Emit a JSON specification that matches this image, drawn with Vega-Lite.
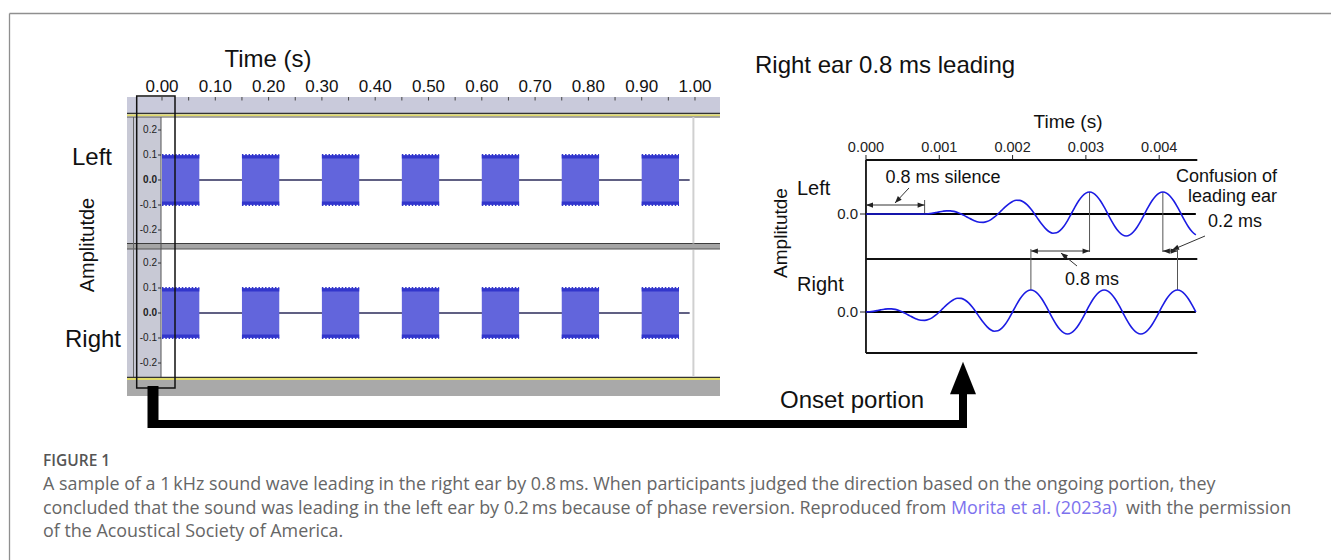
{
"$schema":"https://vega.github.io/schema/vega-lite/v6.json",
"width":1331,"height":560,"autosize":{"type":"none"},"padding":0,"background":"white",
"config":{"view":{"stroke":null},"text":{"font":"Liberation Sans"}},
"datasets":{
"lticks":[{"t":0,"label":"0.00"},{"t":0.05,"label":""},{"t":0.1,"label":"0.10"},{"t":0.15,"label":""},{"t":0.2,"label":"0.20"},{"t":0.25,"label":""},{"t":0.3,"label":"0.30"},{"t":0.35,"label":""},{"t":0.4,"label":"0.40"},{"t":0.45,"label":""},{"t":0.5,"label":"0.50"},{"t":0.55,"label":""},{"t":0.6,"label":"0.60"},{"t":0.65,"label":""},{"t":0.7,"label":"0.70"},{"t":0.75,"label":""},{"t":0.8,"label":"0.80"},{"t":0.85,"label":""},{"t":0.9,"label":"0.90"},{"t":0.95,"label":""},{"t":1,"label":"1.00"}],
"rticks":[{"t":0,"label":"0.000"},{"t":0.001,"label":"0.001"},{"t":0.002,"label":"0.002"},{"t":0.003,"label":"0.003"},{"t":0.004,"label":"0.004"}],
"ampticks":[{"v":0.2,"label":"0.2"},{"v":0.1,"label":"0.1"},{"v":0,"label":"0.0"},{"v":-0.1,"label":"-0.1"},{"v":-0.2,"label":"-0.2"}],
"bursts":[
{"track":"Left","t0":0,"t1":0.07,"lo":-0.1,"hi":0.1},{"track":"Left","t0":0.15,"t1":0.22,"lo":-0.1,"hi":0.1},{"track":"Left","t0":0.3,"t1":0.37,"lo":-0.1,"hi":0.1},{"track":"Left","t0":0.45,"t1":0.52,"lo":-0.1,"hi":0.1},{"track":"Left","t0":0.6,"t1":0.67,"lo":-0.1,"hi":0.1},{"track":"Left","t0":0.75,"t1":0.82,"lo":-0.1,"hi":0.1},{"track":"Left","t0":0.9,"t1":0.97,"lo":-0.1,"hi":0.1},
{"track":"Right","t0":0,"t1":0.07,"lo":-0.1,"hi":0.1},{"track":"Right","t0":0.15,"t1":0.22,"lo":-0.1,"hi":0.1},{"track":"Right","t0":0.3,"t1":0.37,"lo":-0.1,"hi":0.1},{"track":"Right","t0":0.45,"t1":0.52,"lo":-0.1,"hi":0.1},{"track":"Right","t0":0.6,"t1":0.67,"lo":-0.1,"hi":0.1},{"track":"Right","t0":0.75,"t1":0.82,"lo":-0.1,"hi":0.1},{"track":"Right","t0":0.9,"t1":0.97,"lo":-0.1,"hi":0.1}],
"wave":[
{"ch":"Left","t":0,"amp":0},{"ch":"Left","t":0.0008,"amp":0},{"ch":"Left","t":0.00085,"amp":0.008},{"ch":"Left","t":0.0009,"amp":0.029},{"ch":"Left","t":0.00095,"amp":0.061},{"ch":"Left","t":0.001,"amp":0.095},{"ch":"Left","t":0.00105,"amp":0.125},{"ch":"Left","t":0.0011,"amp":0.143},{"ch":"Left","t":0.00115,"amp":0.142},{"ch":"Left","t":0.0012,"amp":0.118},{"ch":"Left","t":0.00125,"amp":0.07},{"ch":"Left","t":0.0013,"amp":0},{"ch":"Left","t":0.00135,"amp":-0.085},{"ch":"Left","t":0.0014,"amp":-0.176},{"ch":"Left","t":0.00145,"amp":-0.263},{"ch":"Left","t":0.0015,"amp":-0.333},{"ch":"Left","t":0.00155,"amp":-0.375},{"ch":"Left","t":0.0016,"amp":-0.38},{"ch":"Left","t":0.00165,"amp":-0.344},{"ch":"Left","t":0.0017,"amp":-0.265},{"ch":"Left","t":0.00175,"amp":-0.147},{"ch":"Left","t":0.0018,"amp":0},{"ch":"Left","t":0.00185,"amp":0.162},{"ch":"Left","t":0.0019,"amp":0.323},{"ch":"Left","t":0.00195,"amp":0.465},{"ch":"Left","t":0.002,"amp":0.571},{"ch":"Left","t":0.00205,"amp":0.625},{"ch":"Left","t":0.0021,"amp":0.618},{"ch":"Left","t":0.00215,"amp":0.546},{"ch":"Left","t":0.0022,"amp":0.412},{"ch":"Left","t":0.00225,"amp":0.224},{"ch":"Left","t":0.0023,"amp":0},{"ch":"Left","t":0.00235,"amp":-0.239},{"ch":"Left","t":0.0024,"amp":-0.47},{"ch":"Left","t":0.00245,"amp":-0.667},{"ch":"Left","t":0.0025,"amp":-0.808},{"ch":"Left","t":0.00255,"amp":-0.875},{"ch":"Left","t":0.0026,"amp":-0.856},{"ch":"Left","t":0.00265,"amp":-0.748},{"ch":"Left","t":0.0027,"amp":-0.559},{"ch":"Left","t":0.00275,"amp":-0.301},{"ch":"Left","t":0.0028,"amp":0},{"ch":"Left","t":0.00285,"amp":0.309},{"ch":"Left","t":0.0029,"amp":0.588},{"ch":"Left","t":0.00295,"amp":0.809},{"ch":"Left","t":0.003,"amp":0.951},{"ch":"Left","t":0.00305,"amp":1},{"ch":"Left","t":0.0031,"amp":0.951},{"ch":"Left","t":0.00315,"amp":0.809},{"ch":"Left","t":0.0032,"amp":0.588},{"ch":"Left","t":0.00325,"amp":0.309},{"ch":"Left","t":0.0033,"amp":0},{"ch":"Left","t":0.00335,"amp":-0.309},{"ch":"Left","t":0.0034,"amp":-0.588},{"ch":"Left","t":0.00345,"amp":-0.809},{"ch":"Left","t":0.0035,"amp":-0.951},{"ch":"Left","t":0.00355,"amp":-1},{"ch":"Left","t":0.0036,"amp":-0.951},{"ch":"Left","t":0.00365,"amp":-0.809},{"ch":"Left","t":0.0037,"amp":-0.588},{"ch":"Left","t":0.00375,"amp":-0.309},{"ch":"Left","t":0.0038,"amp":0},{"ch":"Left","t":0.00385,"amp":0.309},{"ch":"Left","t":0.0039,"amp":0.588},{"ch":"Left","t":0.00395,"amp":0.809},{"ch":"Left","t":0.004,"amp":0.951},{"ch":"Left","t":0.00405,"amp":1},{"ch":"Left","t":0.0041,"amp":0.951},{"ch":"Left","t":0.00415,"amp":0.809},{"ch":"Left","t":0.0042,"amp":0.588},{"ch":"Left","t":0.00425,"amp":0.309},{"ch":"Left","t":0.0043,"amp":0},{"ch":"Left","t":0.00435,"amp":-0.309},{"ch":"Left","t":0.0044,"amp":-0.588},{"ch":"Left","t":0.00445,"amp":-0.809},{"ch":"Left","t":0.0045,"amp":-0.951},
{"ch":"Right","t":0,"amp":0},{"ch":"Right","t":0.00005,"amp":0.008},{"ch":"Right","t":0.0001,"amp":0.029},{"ch":"Right","t":0.00015,"amp":0.061},{"ch":"Right","t":0.0002,"amp":0.095},{"ch":"Right","t":0.00025,"amp":0.125},{"ch":"Right","t":0.0003,"amp":0.143},{"ch":"Right","t":0.00035,"amp":0.142},{"ch":"Right","t":0.0004,"amp":0.118},{"ch":"Right","t":0.00045,"amp":0.07},{"ch":"Right","t":0.0005,"amp":0},{"ch":"Right","t":0.00055,"amp":-0.085},{"ch":"Right","t":0.0006,"amp":-0.176},{"ch":"Right","t":0.00065,"amp":-0.263},{"ch":"Right","t":0.0007,"amp":-0.333},{"ch":"Right","t":0.00075,"amp":-0.375},{"ch":"Right","t":0.0008,"amp":-0.38},{"ch":"Right","t":0.00085,"amp":-0.344},{"ch":"Right","t":0.0009,"amp":-0.265},{"ch":"Right","t":0.00095,"amp":-0.147},{"ch":"Right","t":0.001,"amp":0},{"ch":"Right","t":0.00105,"amp":0.162},{"ch":"Right","t":0.0011,"amp":0.323},{"ch":"Right","t":0.00115,"amp":0.465},{"ch":"Right","t":0.0012,"amp":0.571},{"ch":"Right","t":0.00125,"amp":0.625},{"ch":"Right","t":0.0013,"amp":0.618},{"ch":"Right","t":0.00135,"amp":0.546},{"ch":"Right","t":0.0014,"amp":0.412},{"ch":"Right","t":0.00145,"amp":0.224},{"ch":"Right","t":0.0015,"amp":0},{"ch":"Right","t":0.00155,"amp":-0.239},{"ch":"Right","t":0.0016,"amp":-0.47},{"ch":"Right","t":0.00165,"amp":-0.667},{"ch":"Right","t":0.0017,"amp":-0.808},{"ch":"Right","t":0.00175,"amp":-0.875},{"ch":"Right","t":0.0018,"amp":-0.856},{"ch":"Right","t":0.00185,"amp":-0.748},{"ch":"Right","t":0.0019,"amp":-0.559},{"ch":"Right","t":0.00195,"amp":-0.301},{"ch":"Right","t":0.002,"amp":0},{"ch":"Right","t":0.00205,"amp":0.309},{"ch":"Right","t":0.0021,"amp":0.588},{"ch":"Right","t":0.00215,"amp":0.809},{"ch":"Right","t":0.0022,"amp":0.951},{"ch":"Right","t":0.00225,"amp":1},{"ch":"Right","t":0.0023,"amp":0.951},{"ch":"Right","t":0.00235,"amp":0.809},{"ch":"Right","t":0.0024,"amp":0.588},{"ch":"Right","t":0.00245,"amp":0.309},{"ch":"Right","t":0.0025,"amp":0},{"ch":"Right","t":0.00255,"amp":-0.309},{"ch":"Right","t":0.0026,"amp":-0.588},{"ch":"Right","t":0.00265,"amp":-0.809},{"ch":"Right","t":0.0027,"amp":-0.951},{"ch":"Right","t":0.00275,"amp":-1},{"ch":"Right","t":0.0028,"amp":-0.951},{"ch":"Right","t":0.00285,"amp":-0.809},{"ch":"Right","t":0.0029,"amp":-0.588},{"ch":"Right","t":0.00295,"amp":-0.309},{"ch":"Right","t":0.003,"amp":0},{"ch":"Right","t":0.00305,"amp":0.309},{"ch":"Right","t":0.0031,"amp":0.588},{"ch":"Right","t":0.00315,"amp":0.809},{"ch":"Right","t":0.0032,"amp":0.951},{"ch":"Right","t":0.00325,"amp":1},{"ch":"Right","t":0.0033,"amp":0.951},{"ch":"Right","t":0.00335,"amp":0.809},{"ch":"Right","t":0.0034,"amp":0.588},{"ch":"Right","t":0.00345,"amp":0.309},{"ch":"Right","t":0.0035,"amp":0},{"ch":"Right","t":0.00355,"amp":-0.309},{"ch":"Right","t":0.0036,"amp":-0.588},{"ch":"Right","t":0.00365,"amp":-0.809},{"ch":"Right","t":0.0037,"amp":-0.951},{"ch":"Right","t":0.00375,"amp":-1},{"ch":"Right","t":0.0038,"amp":-0.951},{"ch":"Right","t":0.00385,"amp":-0.809},{"ch":"Right","t":0.0039,"amp":-0.588},{"ch":"Right","t":0.00395,"amp":-0.309},{"ch":"Right","t":0.004,"amp":0},{"ch":"Right","t":0.00405,"amp":0.309},{"ch":"Right","t":0.0041,"amp":0.588},{"ch":"Right","t":0.00415,"amp":0.809},{"ch":"Right","t":0.0042,"amp":0.951},{"ch":"Right","t":0.00425,"amp":1},{"ch":"Right","t":0.0043,"amp":0.951},{"ch":"Right","t":0.00435,"amp":0.809},{"ch":"Right","t":0.0044,"amp":0.588},{"ch":"Right","t":0.00445,"amp":0.309},{"ch":"Right","t":0.0045,"amp":0}]
},
"resolve":{"scale":{"x":"independent","y":"independent"}},
"layer":[
{"data":{"values":[{}]},"layer":[
{"mark":{"type":"rule","color":"#8f8f8f","strokeWidth":1.3},"encoding":{"x":{"datum":9.5,"type":"quantitative","scale":{"domain":[0,1331],"nice":false,"zero":false},"axis":null},"x2":{"datum":1331},"y":{"datum":13.5,"type":"quantitative","scale":{"domain":[0,560],"reverse":true,"nice":false,"zero":false},"axis":null}}},
{"mark":{"type":"rule","color":"#8f8f8f","strokeWidth":1.3},"encoding":{"x":{"datum":9.5,"type":"quantitative","scale":{"domain":[0,1331],"nice":false,"zero":false},"axis":null},"y":{"datum":13.5,"type":"quantitative","scale":{"domain":[0,560],"reverse":true,"nice":false,"zero":false},"axis":null},"y2":{"datum":560}}},
{"mark":{"type":"rect","color":"#c9cadb"},"encoding":{"x":{"datum":127,"type":"quantitative","scale":{"domain":[0,1331],"nice":false,"zero":false},"axis":null},"x2":{"datum":720},"y":{"datum":97,"type":"quantitative","scale":{"domain":[0,560],"reverse":true,"nice":false,"zero":false},"axis":null},"y2":{"datum":113}}},
{"mark":{"type":"rect","color":"#c8c9d5"},"encoding":{"x":{"datum":127,"type":"quantitative","scale":{"domain":[0,1331],"nice":false,"zero":false},"axis":null},"x2":{"datum":161},"y":{"datum":117,"type":"quantitative","scale":{"domain":[0,560],"reverse":true,"nice":false,"zero":false},"axis":null},"y2":{"datum":377}}},
{"mark":{"type":"rect","color":"#a5a5a5"},"encoding":{"x":{"datum":127,"type":"quantitative","scale":{"domain":[0,1331],"nice":false,"zero":false},"axis":null},"x2":{"datum":720},"y":{"datum":243.5,"type":"quantitative","scale":{"domain":[0,560],"reverse":true,"nice":false,"zero":false},"axis":null},"y2":{"datum":249}}},
{"mark":{"type":"rule","color":"#3d3d3d","strokeWidth":1.2},"encoding":{"x":{"datum":127,"type":"quantitative","scale":{"domain":[0,1331],"nice":false,"zero":false},"axis":null},"x2":{"datum":720},"y":{"datum":243.5,"type":"quantitative","scale":{"domain":[0,560],"reverse":true,"nice":false,"zero":false},"axis":null}}},
{"mark":{"type":"rule","color":"#555555","strokeWidth":1},"encoding":{"x":{"datum":127,"type":"quantitative","scale":{"domain":[0,1331],"nice":false,"zero":false},"axis":null},"x2":{"datum":720},"y":{"datum":249,"type":"quantitative","scale":{"domain":[0,560],"reverse":true,"nice":false,"zero":false},"axis":null}}},
{"mark":{"type":"rule","color":"#666666","strokeWidth":1},"encoding":{"x":{"datum":133.5,"type":"quantitative","scale":{"domain":[0,1331],"nice":false,"zero":false},"axis":null},"y":{"datum":117,"type":"quantitative","scale":{"domain":[0,560],"reverse":true,"nice":false,"zero":false},"axis":null},"y2":{"datum":377}}},
{"mark":{"type":"rule","color":"#8a8a9a","strokeWidth":1},"encoding":{"x":{"datum":136.5,"type":"quantitative","scale":{"domain":[0,1331],"nice":false,"zero":false},"axis":null},"y":{"datum":117,"type":"quantitative","scale":{"domain":[0,560],"reverse":true,"nice":false,"zero":false},"axis":null},"y2":{"datum":377}}},
{"mark":{"type":"rule","color":"#555555","strokeWidth":1},"encoding":{"x":{"datum":161,"type":"quantitative","scale":{"domain":[0,1331],"nice":false,"zero":false},"axis":null},"y":{"datum":117,"type":"quantitative","scale":{"domain":[0,560],"reverse":true,"nice":false,"zero":false},"axis":null},"y2":{"datum":377}}},
{"mark":{"type":"rule","color":"#333333","strokeWidth":1.5},"encoding":{"x":{"datum":127,"type":"quantitative","scale":{"domain":[0,1331],"nice":false,"zero":false},"axis":null},"x2":{"datum":720},"y":{"datum":113.5,"type":"quantitative","scale":{"domain":[0,560],"reverse":true,"nice":false,"zero":false},"axis":null}}},
{"mark":{"type":"rule","color":"#e2dc6a","strokeWidth":1.8},"encoding":{"x":{"datum":127,"type":"quantitative","scale":{"domain":[0,1331],"nice":false,"zero":false},"axis":null},"x2":{"datum":720},"y":{"datum":115.3,"type":"quantitative","scale":{"domain":[0,560],"reverse":true,"nice":false,"zero":false},"axis":null}}},
{"mark":{"type":"rule","color":"#555555","strokeWidth":1},"encoding":{"x":{"datum":127,"type":"quantitative","scale":{"domain":[0,1331],"nice":false,"zero":false},"axis":null},"x2":{"datum":720},"y":{"datum":117,"type":"quantitative","scale":{"domain":[0,560],"reverse":true,"nice":false,"zero":false},"axis":null}}},
{"mark":{"type":"rule","color":"#333333","strokeWidth":1.3},"encoding":{"x":{"datum":127,"type":"quantitative","scale":{"domain":[0,1331],"nice":false,"zero":false},"axis":null},"x2":{"datum":720},"y":{"datum":377.3,"type":"quantitative","scale":{"domain":[0,560],"reverse":true,"nice":false,"zero":false},"axis":null}}},
{"mark":{"type":"rule","color":"#e2dc6a","strokeWidth":1.8},"encoding":{"x":{"datum":127,"type":"quantitative","scale":{"domain":[0,1331],"nice":false,"zero":false},"axis":null},"x2":{"datum":720},"y":{"datum":379,"type":"quantitative","scale":{"domain":[0,560],"reverse":true,"nice":false,"zero":false},"axis":null}}},
{"mark":{"type":"rect","color":"#a9a9a9"},"encoding":{"x":{"datum":127,"type":"quantitative","scale":{"domain":[0,1331],"nice":false,"zero":false},"axis":null},"x2":{"datum":720},"y":{"datum":380,"type":"quantitative","scale":{"domain":[0,560],"reverse":true,"nice":false,"zero":false},"axis":null},"y2":{"datum":396}}},
{"mark":{"type":"text","text":"Time (s)","fontSize":24,"color":"#111111"},"encoding":{"x":{"datum":268,"type":"quantitative","scale":{"domain":[0,1331],"nice":false,"zero":false},"axis":null},"y":{"datum":60,"type":"quantitative","scale":{"domain":[0,560],"reverse":true,"nice":false,"zero":false},"axis":null}}},
{"mark":{"type":"text","text":"Time (s)","fontSize":19,"color":"#111111"},"encoding":{"x":{"datum":1068,"type":"quantitative","scale":{"domain":[0,1331],"nice":false,"zero":false},"axis":null},"y":{"datum":122,"type":"quantitative","scale":{"domain":[0,560],"reverse":true,"nice":false,"zero":false},"axis":null}}},
{"mark":{"type":"text","text":"Left","fontSize":24,"color":"#111111"},"encoding":{"x":{"datum":92,"type":"quantitative","scale":{"domain":[0,1331],"nice":false,"zero":false},"axis":null},"y":{"datum":158,"type":"quantitative","scale":{"domain":[0,560],"reverse":true,"nice":false,"zero":false},"axis":null}}},
{"mark":{"type":"text","text":"Right","fontSize":24,"color":"#111111"},"encoding":{"x":{"datum":93,"type":"quantitative","scale":{"domain":[0,1331],"nice":false,"zero":false},"axis":null},"y":{"datum":340,"type":"quantitative","scale":{"domain":[0,560],"reverse":true,"nice":false,"zero":false},"axis":null}}},
{"mark":{"type":"text","text":"Amplitutde","fontSize":20,"angle":270,"color":"#111111"},"encoding":{"x":{"datum":88,"type":"quantitative","scale":{"domain":[0,1331],"nice":false,"zero":false},"axis":null},"y":{"datum":245,"type":"quantitative","scale":{"domain":[0,560],"reverse":true,"nice":false,"zero":false},"axis":null}}},
{"mark":{"type":"text","text":"Right ear 0.8 ms leading","fontSize":24,"align":"left","color":"#111111"},"encoding":{"x":{"datum":755,"type":"quantitative","scale":{"domain":[0,1331],"nice":false,"zero":false},"axis":null},"y":{"datum":66,"type":"quantitative","scale":{"domain":[0,560],"reverse":true,"nice":false,"zero":false},"axis":null}}},
{"mark":{"type":"text","text":"Left","fontSize":20,"align":"left","color":"#111111"},"encoding":{"x":{"datum":797,"type":"quantitative","scale":{"domain":[0,1331],"nice":false,"zero":false},"axis":null},"y":{"datum":189,"type":"quantitative","scale":{"domain":[0,560],"reverse":true,"nice":false,"zero":false},"axis":null}}},
{"mark":{"type":"text","text":"Right","fontSize":20,"align":"left","color":"#111111"},"encoding":{"x":{"datum":797,"type":"quantitative","scale":{"domain":[0,1331],"nice":false,"zero":false},"axis":null},"y":{"datum":285,"type":"quantitative","scale":{"domain":[0,560],"reverse":true,"nice":false,"zero":false},"axis":null}}},
{"mark":{"type":"text","text":"Amplitutde","fontSize":19,"angle":270,"color":"#111111"},"encoding":{"x":{"datum":781,"type":"quantitative","scale":{"domain":[0,1331],"nice":false,"zero":false},"axis":null},"y":{"datum":233,"type":"quantitative","scale":{"domain":[0,560],"reverse":true,"nice":false,"zero":false},"axis":null}}},
{"mark":{"type":"text","text":"Onset portion","fontSize":24,"align":"left","color":"#111111"},"encoding":{"x":{"datum":780,"type":"quantitative","scale":{"domain":[0,1331],"nice":false,"zero":false},"axis":null},"y":{"datum":401,"type":"quantitative","scale":{"domain":[0,560],"reverse":true,"nice":false,"zero":false},"axis":null}}},
{"mark":{"type":"text","text":"FIGURE 1","fontSize":15.5,"font":"Open Sans","fontWeight":600,"align":"left","color":"#555555"},"encoding":{"x":{"datum":43,"type":"quantitative","scale":{"domain":[0,1331],"nice":false,"zero":false},"axis":null},"y":{"datum":461,"type":"quantitative","scale":{"domain":[0,560],"reverse":true,"nice":false,"zero":false},"axis":null}}},
{"mark":{"type":"text","text":"A sample of a 1\u2009kHz sound wave leading in the right ear by 0.8\u2009ms. When participants judged the direction based on the ongoing portion, they","fontSize":17.9,"font":"Open Sans","align":"left","color":"#666666"},"encoding":{"x":{"datum":43,"type":"quantitative","scale":{"domain":[0,1331],"nice":false,"zero":false},"axis":null},"y":{"datum":485,"type":"quantitative","scale":{"domain":[0,560],"reverse":true,"nice":false,"zero":false},"axis":null}}},
{"mark":{"type":"text","text":"concluded that the sound was leading in the left ear by 0.2\u2009ms because of phase reversion. Reproduced from","fontSize":17.9,"font":"Open Sans","align":"left","color":"#666666"},"encoding":{"x":{"datum":43,"type":"quantitative","scale":{"domain":[0,1331],"nice":false,"zero":false},"axis":null},"y":{"datum":509,"type":"quantitative","scale":{"domain":[0,560],"reverse":true,"nice":false,"zero":false},"axis":null}}},
{"mark":{"type":"text","text":"Morita et al. (2023a)","fontSize":17.9,"font":"Open Sans","align":"left","color":"#7d72ee"},"encoding":{"x":{"datum":951,"type":"quantitative","scale":{"domain":[0,1331],"nice":false,"zero":false},"axis":null},"y":{"datum":509,"type":"quantitative","scale":{"domain":[0,560],"reverse":true,"nice":false,"zero":false},"axis":null}}},
{"mark":{"type":"text","text":"with the permission","fontSize":17.9,"font":"Open Sans","align":"left","color":"#666666"},"encoding":{"x":{"datum":1126,"type":"quantitative","scale":{"domain":[0,1331],"nice":false,"zero":false},"axis":null},"y":{"datum":509,"type":"quantitative","scale":{"domain":[0,560],"reverse":true,"nice":false,"zero":false},"axis":null}}},
{"mark":{"type":"text","text":"of the Acoustical Society of America.","fontSize":17.9,"font":"Open Sans","align":"left","color":"#666666"},"encoding":{"x":{"datum":43,"type":"quantitative","scale":{"domain":[0,1331],"nice":false,"zero":false},"axis":null},"y":{"datum":532,"type":"quantitative","scale":{"domain":[0,560],"reverse":true,"nice":false,"zero":false},"axis":null}}}
]},
{"data":{"name":"lticks"},"layer":[
{"mark":{"type":"text","fontSize":17,"color":"#111111","baseline":"alphabetic"},"encoding":{"x":{"field":"t","type":"quantitative","scale":{"domain":[-0.30394,2.19325],"nice":false,"zero":false},"axis":null},"y":{"datum":92,"type":"quantitative","scale":{"domain":[0,560],"reverse":true,"nice":false,"zero":false},"axis":null},"text":{"field":"label"}}},
{"mark":{"type":"rule","color":"#444444","strokeWidth":1},"encoding":{"x":{"field":"t","type":"quantitative","scale":{"domain":[-0.30394,2.19325],"nice":false,"zero":false},"axis":null},"y":{"datum":97,"type":"quantitative","scale":{"domain":[0,560],"reverse":true,"nice":false,"zero":false},"axis":null},"y2":{"datum":100.5}}}
]},
{"data":{"name":"rticks"},"layer":[
{"mark":{"type":"text","fontSize":14.5,"color":"#222222","baseline":"alphabetic"},"encoding":{"x":{"field":"t","type":"quantitative","scale":{"domain":[-0.011814,0.006344],"nice":false,"zero":false},"axis":null},"y":{"datum":152,"type":"quantitative","scale":{"domain":[0,560],"reverse":true,"nice":false,"zero":false},"axis":null},"text":{"field":"label"}}},
{"mark":{"type":"rule","color":"#222222","strokeWidth":1},"encoding":{"x":{"field":"t","type":"quantitative","scale":{"domain":[-0.011814,0.006344],"nice":false,"zero":false},"axis":null},"y":{"datum":155,"type":"quantitative","scale":{"domain":[0,560],"reverse":true,"nice":false,"zero":false},"axis":null},"y2":{"datum":160}}}
]},
{"data":{"name":"ampticks"},"layer":[
{"transform":[{"filter":"datum.v !== 0"}],"mark":{"type":"text","fontSize":10,"color":"#222222","align":"right"},"encoding":{"x":{"datum":157,"type":"quantitative","scale":{"domain":[0,1331],"nice":false,"zero":false},"axis":null},"y":{"field":"v","type":"quantitative","scale":{"domain":[-1.52,0.72],"nice":false,"zero":false},"axis":null},"text":{"field":"label"}}},
{"transform":[{"filter":"datum.v === 0"}],"mark":{"type":"text","fontSize":10,"fontWeight":"bold","color":"#222222","align":"right"},"encoding":{"x":{"datum":157,"type":"quantitative","scale":{"domain":[0,1331],"nice":false,"zero":false},"axis":null},"y":{"field":"v","type":"quantitative","scale":{"domain":[-1.52,0.72],"nice":false,"zero":false},"axis":null},"text":{"field":"label"}}},
{"mark":{"type":"rule","color":"#333333","strokeWidth":1},"encoding":{"x":{"datum":158,"type":"quantitative","scale":{"domain":[0,1331],"nice":false,"zero":false},"axis":null},"x2":{"datum":161},"y":{"field":"v","type":"quantitative","scale":{"domain":[-1.52,0.72],"nice":false,"zero":false},"axis":null}}}
]},
{"data":{"name":"ampticks"},"layer":[
{"transform":[{"filter":"datum.v !== 0"}],"mark":{"type":"text","fontSize":10,"color":"#222222","align":"right"},"encoding":{"x":{"datum":157,"type":"quantitative","scale":{"domain":[0,1331],"nice":false,"zero":false},"axis":null},"y":{"field":"v","type":"quantitative","scale":{"domain":[-0.988,1.252],"nice":false,"zero":false},"axis":null},"text":{"field":"label"}}},
{"transform":[{"filter":"datum.v === 0"}],"mark":{"type":"text","fontSize":10,"fontWeight":"bold","color":"#222222","align":"right"},"encoding":{"x":{"datum":157,"type":"quantitative","scale":{"domain":[0,1331],"nice":false,"zero":false},"axis":null},"y":{"field":"v","type":"quantitative","scale":{"domain":[-0.988,1.252],"nice":false,"zero":false},"axis":null},"text":{"field":"label"}}},
{"mark":{"type":"rule","color":"#333333","strokeWidth":1},"encoding":{"x":{"datum":158,"type":"quantitative","scale":{"domain":[0,1331],"nice":false,"zero":false},"axis":null},"x2":{"datum":161},"y":{"field":"v","type":"quantitative","scale":{"domain":[-0.988,1.252],"nice":false,"zero":false},"axis":null}}}
]},
{"data":{"values":[{}]},"layer":[
{"mark":{"type":"text","text":"0.0","fontSize":15,"color":"#222222","align":"right"},"encoding":{"x":{"datum":858,"type":"quantitative","scale":{"domain":[0,1331],"nice":false,"zero":false},"axis":null},"y":{"datum":0,"type":"quantitative","scale":{"domain":[-15.7273,9.7273],"nice":false,"zero":false},"axis":null}}},
{"mark":{"type":"rule","color":"#222222","strokeWidth":1},"encoding":{"x":{"datum":860,"type":"quantitative","scale":{"domain":[0,1331],"nice":false,"zero":false},"axis":null},"x2":{"datum":866},"y":{"datum":0,"type":"quantitative","scale":{"domain":[-15.7273,9.7273],"nice":false,"zero":false},"axis":null}}}
]},
{"data":{"values":[{}]},"layer":[
{"mark":{"type":"text","text":"0.0","fontSize":15,"color":"#222222","align":"right"},"encoding":{"x":{"datum":858,"type":"quantitative","scale":{"domain":[0,1331],"nice":false,"zero":false},"axis":null},"y":{"datum":0,"type":"quantitative","scale":{"domain":[-11.2727,14.1818],"nice":false,"zero":false},"axis":null}}},
{"mark":{"type":"rule","color":"#222222","strokeWidth":1},"encoding":{"x":{"datum":860,"type":"quantitative","scale":{"domain":[0,1331],"nice":false,"zero":false},"axis":null},"x2":{"datum":866},"y":{"datum":0,"type":"quantitative","scale":{"domain":[-11.2727,14.1818],"nice":false,"zero":false},"axis":null}}}
]},
{"layer":[
{"data":{"values":[{}]},"mark":{"type":"rule","color":"#2b2b5a","strokeWidth":1.5},"encoding":{"x":{"datum":0,"type":"quantitative","scale":{"domain":[-0.30394,2.19325],"nice":false,"zero":false},"axis":null},"x2":{"datum":0.99},"y":{"datum":0,"type":"quantitative","scale":{"domain":[-1.52,0.72],"nice":false,"zero":false},"axis":null}}},
{"data":{"name":"bursts"},"transform":[{"filter":"datum.track === 'Left'"}],"mark":{"type":"rect","color":"#6265dc"},"encoding":{"x":{"field":"t0","type":"quantitative","scale":{"domain":[-0.30394,2.19325],"nice":false,"zero":false},"axis":null},"x2":{"field":"t1"},"y":{"field":"lo","type":"quantitative","scale":{"domain":[-1.52,0.72],"nice":false,"zero":false},"axis":null},"y2":{"field":"hi"}}},
{"data":{"name":"bursts"},"transform":[{"filter":"datum.track === 'Left'"}],"mark":{"type":"rule","color":"#3236cc","strokeWidth":3,"yOffset":2},"encoding":{"x":{"field":"t0","type":"quantitative","scale":{"domain":[-0.30394,2.19325],"nice":false,"zero":false},"axis":null},"x2":{"field":"t1"},"y":{"field":"hi","type":"quantitative","scale":{"domain":[-1.52,0.72],"nice":false,"zero":false},"axis":null}}},
{"data":{"name":"bursts"},"transform":[{"filter":"datum.track === 'Left'"}],"mark":{"type":"rule","color":"#3236cc","strokeWidth":2,"strokeDash":[1.5,1.8],"yOffset":0},"encoding":{"x":{"field":"t0","type":"quantitative","scale":{"domain":[-0.30394,2.19325],"nice":false,"zero":false},"axis":null},"x2":{"field":"t1"},"y":{"field":"hi","type":"quantitative","scale":{"domain":[-1.52,0.72],"nice":false,"zero":false},"axis":null}}},
{"data":{"name":"bursts"},"transform":[{"filter":"datum.track === 'Left'"}],"mark":{"type":"rule","color":"#3236cc","strokeWidth":3,"yOffset":-2},"encoding":{"x":{"field":"t0","type":"quantitative","scale":{"domain":[-0.30394,2.19325],"nice":false,"zero":false},"axis":null},"x2":{"field":"t1"},"y":{"field":"lo","type":"quantitative","scale":{"domain":[-1.52,0.72],"nice":false,"zero":false},"axis":null}}},
{"data":{"name":"bursts"},"transform":[{"filter":"datum.track === 'Left'"}],"mark":{"type":"rule","color":"#3236cc","strokeWidth":2,"strokeDash":[1.5,1.8],"yOffset":0},"encoding":{"x":{"field":"t0","type":"quantitative","scale":{"domain":[-0.30394,2.19325],"nice":false,"zero":false},"axis":null},"x2":{"field":"t1"},"y":{"field":"lo","type":"quantitative","scale":{"domain":[-1.52,0.72],"nice":false,"zero":false},"axis":null}}},
{"data":{"values":[{}]},"mark":{"type":"rule","color":"#d0d0d0","strokeWidth":2},"encoding":{"x":{"datum":0.997,"type":"quantitative","scale":{"domain":[-0.30394,2.19325],"nice":false,"zero":false},"axis":null},"y":{"datum":0.252,"type":"quantitative","scale":{"domain":[-1.52,0.72],"nice":false,"zero":false},"axis":null},"y2":{"datum":-0.254}}}
]},
{"layer":[
{"data":{"values":[{}]},"mark":{"type":"rule","color":"#2b2b5a","strokeWidth":1.5},"encoding":{"x":{"datum":0,"type":"quantitative","scale":{"domain":[-0.30394,2.19325],"nice":false,"zero":false},"axis":null},"x2":{"datum":0.99},"y":{"datum":0,"type":"quantitative","scale":{"domain":[-0.988,1.252],"nice":false,"zero":false},"axis":null}}},
{"data":{"name":"bursts"},"transform":[{"filter":"datum.track === 'Right'"}],"mark":{"type":"rect","color":"#6265dc"},"encoding":{"x":{"field":"t0","type":"quantitative","scale":{"domain":[-0.30394,2.19325],"nice":false,"zero":false},"axis":null},"x2":{"field":"t1"},"y":{"field":"lo","type":"quantitative","scale":{"domain":[-0.988,1.252],"nice":false,"zero":false},"axis":null},"y2":{"field":"hi"}}},
{"data":{"name":"bursts"},"transform":[{"filter":"datum.track === 'Right'"}],"mark":{"type":"rule","color":"#3236cc","strokeWidth":3,"yOffset":2},"encoding":{"x":{"field":"t0","type":"quantitative","scale":{"domain":[-0.30394,2.19325],"nice":false,"zero":false},"axis":null},"x2":{"field":"t1"},"y":{"field":"hi","type":"quantitative","scale":{"domain":[-0.988,1.252],"nice":false,"zero":false},"axis":null}}},
{"data":{"name":"bursts"},"transform":[{"filter":"datum.track === 'Right'"}],"mark":{"type":"rule","color":"#3236cc","strokeWidth":2,"strokeDash":[1.5,1.8],"yOffset":0},"encoding":{"x":{"field":"t0","type":"quantitative","scale":{"domain":[-0.30394,2.19325],"nice":false,"zero":false},"axis":null},"x2":{"field":"t1"},"y":{"field":"hi","type":"quantitative","scale":{"domain":[-0.988,1.252],"nice":false,"zero":false},"axis":null}}},
{"data":{"name":"bursts"},"transform":[{"filter":"datum.track === 'Right'"}],"mark":{"type":"rule","color":"#3236cc","strokeWidth":3,"yOffset":-2},"encoding":{"x":{"field":"t0","type":"quantitative","scale":{"domain":[-0.30394,2.19325],"nice":false,"zero":false},"axis":null},"x2":{"field":"t1"},"y":{"field":"lo","type":"quantitative","scale":{"domain":[-0.988,1.252],"nice":false,"zero":false},"axis":null}}},
{"data":{"name":"bursts"},"transform":[{"filter":"datum.track === 'Right'"}],"mark":{"type":"rule","color":"#3236cc","strokeWidth":2,"strokeDash":[1.5,1.8],"yOffset":0},"encoding":{"x":{"field":"t0","type":"quantitative","scale":{"domain":[-0.30394,2.19325],"nice":false,"zero":false},"axis":null},"x2":{"field":"t1"},"y":{"field":"lo","type":"quantitative","scale":{"domain":[-0.988,1.252],"nice":false,"zero":false},"axis":null}}},
{"data":{"values":[{}]},"mark":{"type":"rule","color":"#d0d0d0","strokeWidth":2},"encoding":{"x":{"datum":0.997,"type":"quantitative","scale":{"domain":[-0.30394,2.19325],"nice":false,"zero":false},"axis":null},"y":{"datum":0.252,"type":"quantitative","scale":{"domain":[-0.988,1.252],"nice":false,"zero":false},"axis":null},"y2":{"datum":-0.254}}}
]},
{"layer":[
{"data":{"values":[{}]},"mark":{"type":"rule","color":"#111111","strokeWidth":1.8},"encoding":{"x":{"datum":0,"type":"quantitative","scale":{"domain":[-0.011814,0.006344],"nice":false,"zero":false},"axis":null},"x2":{"datum":0.00452},"y":{"datum":2.4545,"type":"quantitative","scale":{"domain":[-15.7273,9.7273],"nice":false,"zero":false},"axis":null}}},
{"data":{"values":[{}]},"mark":{"type":"rule","color":"#111111","strokeWidth":1.8},"encoding":{"x":{"datum":0,"type":"quantitative","scale":{"domain":[-0.011814,0.006344],"nice":false,"zero":false},"axis":null},"y":{"datum":2.4545,"type":"quantitative","scale":{"domain":[-15.7273,9.7273],"nice":false,"zero":false},"axis":null},"y2":{"datum":-6.3182}}},
{"data":{"values":[{}]},"mark":{"type":"rule","color":"#111111","strokeWidth":1.8},"encoding":{"x":{"datum":0,"type":"quantitative","scale":{"domain":[-0.011814,0.006344],"nice":false,"zero":false},"axis":null},"x2":{"datum":0.00452},"y":{"datum":-2.0455,"type":"quantitative","scale":{"domain":[-15.7273,9.7273],"nice":false,"zero":false},"axis":null}}},
{"data":{"values":[{}]},"mark":{"type":"rule","color":"#111111","strokeWidth":1.8},"encoding":{"x":{"datum":0,"type":"quantitative","scale":{"domain":[-0.011814,0.006344],"nice":false,"zero":false},"axis":null},"x2":{"datum":0.00452},"y":{"datum":-6.3182,"type":"quantitative","scale":{"domain":[-15.7273,9.7273],"nice":false,"zero":false},"axis":null}}},
{"data":{"values":[{}]},"mark":{"type":"rule","color":"#000000","strokeWidth":2},"encoding":{"x":{"datum":0,"type":"quantitative","scale":{"domain":[-0.011814,0.006344],"nice":false,"zero":false},"axis":null},"x2":{"datum":0.0045},"y":{"datum":0,"type":"quantitative","scale":{"domain":[-15.7273,9.7273],"nice":false,"zero":false},"axis":null}}},
{"data":{"values":[{}]},"mark":{"type":"rule","color":"#555555","strokeWidth":1},"encoding":{"x":{"datum":0.00305,"type":"quantitative","scale":{"domain":[-0.011814,0.006344],"nice":false,"zero":false},"axis":null},"y":{"datum":1,"type":"quantitative","scale":{"domain":[-15.7273,9.7273],"nice":false,"zero":false},"axis":null},"y2":{"datum":-1.727}}},
{"data":{"values":[{}]},"mark":{"type":"rule","color":"#555555","strokeWidth":1},"encoding":{"x":{"datum":0.00405,"type":"quantitative","scale":{"domain":[-0.011814,0.006344],"nice":false,"zero":false},"axis":null},"y":{"datum":1,"type":"quantitative","scale":{"domain":[-15.7273,9.7273],"nice":false,"zero":false},"axis":null},"y2":{"datum":-1.727}}},
{"data":{"values":[{}]},"mark":{"type":"rule","color":"#555555","strokeWidth":1},"encoding":{"x":{"datum":0.0008,"type":"quantitative","scale":{"domain":[-0.011814,0.006344],"nice":false,"zero":false},"axis":null},"y":{"datum":0.636,"type":"quantitative","scale":{"domain":[-15.7273,9.7273],"nice":false,"zero":false},"axis":null},"y2":{"datum":0.045}}},
{"data":{"name":"wave"},"transform":[{"filter":"datum.ch === 'Left'"}],"mark":{"type":"line","color":"#1c1ce3","strokeWidth":1.6,"interpolate":"monotone"},"encoding":{"x":{"field":"t","type":"quantitative","scale":{"domain":[-0.011814,0.006344],"nice":false,"zero":false},"axis":null},"y":{"field":"amp","type":"quantitative","scale":{"domain":[-15.7273,9.7273],"nice":false,"zero":false},"axis":null}}},
{"data":{"values":[{}]},"mark":{"type":"rule","color":"#333333","strokeWidth":1},"encoding":{"x":{"datum":0,"type":"quantitative","scale":{"domain":[-0.011814,0.006344],"nice":false,"zero":false},"axis":null},"x2":{"datum":0.0008},"y":{"datum":0.409,"type":"quantitative","scale":{"domain":[-15.7273,9.7273],"nice":false,"zero":false},"axis":null}}},
{"data":{"values":[{}]},"mark":{"type":"rule","color":"#333333","strokeWidth":1},"encoding":{"x":{"datum":0.00225,"type":"quantitative","scale":{"domain":[-0.011814,0.006344],"nice":false,"zero":false},"axis":null},"x2":{"datum":0.00305},"y":{"datum":-1.682,"type":"quantitative","scale":{"domain":[-15.7273,9.7273],"nice":false,"zero":false},"axis":null}}},
{"data":{"values":[{}]},"mark":{"type":"rule","color":"#333333","strokeWidth":1},"encoding":{"x":{"datum":0.00405,"type":"quantitative","scale":{"domain":[-0.011814,0.006344],"nice":false,"zero":false},"axis":null},"x2":{"datum":0.00425},"y":{"datum":-1.682,"type":"quantitative","scale":{"domain":[-15.7273,9.7273],"nice":false,"zero":false},"axis":null}}},
{"data":{"values":[{}]},"mark":{"type":"rule","color":"#333333","strokeWidth":1},"encoding":{"x":{"datum":0.000587,"type":"quantitative","scale":{"domain":[-0.011814,0.006344],"nice":false,"zero":false},"axis":null},"x2":{"datum":0.000396},"y":{"datum":1.182,"type":"quantitative","scale":{"domain":[-15.7273,9.7273],"nice":false,"zero":false},"axis":null},"y2":{"datum":0.5}}},
{"data":{"values":[{}]},"mark":{"type":"rule","color":"#333333","strokeWidth":1},"encoding":{"x":{"datum":0.002879,"type":"quantitative","scale":{"domain":[-0.011814,0.006344],"nice":false,"zero":false},"axis":null},"x2":{"datum":0.00266},"y":{"datum":-2.364,"type":"quantitative","scale":{"domain":[-15.7273,9.7273],"nice":false,"zero":false},"axis":null},"y2":{"datum":-1.773}}},
{"data":{"values":[{}]},"mark":{"type":"rule","color":"#333333","strokeWidth":1},"encoding":{"x":{"datum":0.004625,"type":"quantitative","scale":{"domain":[-0.011814,0.006344],"nice":false,"zero":false},"axis":null},"x2":{"datum":0.004175},"y":{"datum":-1.0,"type":"quantitative","scale":{"domain":[-15.7273,9.7273],"nice":false,"zero":false},"axis":null},"y2":{"datum":-1.636}}},
{"data":{"values":[{}]},"mark":{"type":"point","shape":"M0,0L-2,-0.75L-2,0.75Z","filled":true,"size":49,"color":"#222222","opacity":1,"angle":180},"encoding":{"x":{"datum":0,"type":"quantitative","scale":{"domain":[-0.011814,0.006344],"nice":false,"zero":false},"axis":null},"y":{"datum":0.409,"type":"quantitative","scale":{"domain":[-15.7273,9.7273],"nice":false,"zero":false},"axis":null}}},
{"data":{"values":[{}]},"mark":{"type":"point","shape":"M0,0L-2,-0.75L-2,0.75Z","filled":true,"size":49,"color":"#222222","opacity":1,"angle":0},"encoding":{"x":{"datum":0.0008,"type":"quantitative","scale":{"domain":[-0.011814,0.006344],"nice":false,"zero":false},"axis":null},"y":{"datum":0.409,"type":"quantitative","scale":{"domain":[-15.7273,9.7273],"nice":false,"zero":false},"axis":null}}},
{"data":{"values":[{}]},"mark":{"type":"point","shape":"M0,0L-2,-0.75L-2,0.75Z","filled":true,"size":49,"color":"#222222","opacity":1,"angle":133},"encoding":{"x":{"datum":0.000396,"type":"quantitative","scale":{"domain":[-0.011814,0.006344],"nice":false,"zero":false},"axis":null},"y":{"datum":0.5,"type":"quantitative","scale":{"domain":[-15.7273,9.7273],"nice":false,"zero":false},"axis":null}}},
{"data":{"values":[{}]},"mark":{"type":"point","shape":"M0,0L-2,-0.75L-2,0.75Z","filled":true,"size":49,"color":"#222222","opacity":1,"angle":180},"encoding":{"x":{"datum":0.00225,"type":"quantitative","scale":{"domain":[-0.011814,0.006344],"nice":false,"zero":false},"axis":null},"y":{"datum":-1.682,"type":"quantitative","scale":{"domain":[-15.7273,9.7273],"nice":false,"zero":false},"axis":null}}},
{"data":{"values":[{}]},"mark":{"type":"point","shape":"M0,0L-2,-0.75L-2,0.75Z","filled":true,"size":49,"color":"#222222","opacity":1,"angle":0},"encoding":{"x":{"datum":0.00305,"type":"quantitative","scale":{"domain":[-0.011814,0.006344],"nice":false,"zero":false},"axis":null},"y":{"datum":-1.682,"type":"quantitative","scale":{"domain":[-15.7273,9.7273],"nice":false,"zero":false},"axis":null}}},
{"data":{"values":[{}]},"mark":{"type":"point","shape":"M0,0L-2,-0.75L-2,0.75Z","filled":true,"size":49,"color":"#222222","opacity":1,"angle":180},"encoding":{"x":{"datum":0.00405,"type":"quantitative","scale":{"domain":[-0.011814,0.006344],"nice":false,"zero":false},"axis":null},"y":{"datum":-1.682,"type":"quantitative","scale":{"domain":[-15.7273,9.7273],"nice":false,"zero":false},"axis":null}}},
{"data":{"values":[{}]},"mark":{"type":"point","shape":"M0,0L-2,-0.75L-2,0.75Z","filled":true,"size":49,"color":"#222222","opacity":1,"angle":0},"encoding":{"x":{"datum":0.00425,"type":"quantitative","scale":{"domain":[-0.011814,0.006344],"nice":false,"zero":false},"axis":null},"y":{"datum":-1.682,"type":"quantitative","scale":{"domain":[-15.7273,9.7273],"nice":false,"zero":false},"axis":null}}},
{"data":{"values":[{}]},"mark":{"type":"point","shape":"M0,0L-2,-0.75L-2,0.75Z","filled":true,"size":49,"color":"#222222","opacity":1,"angle":219},"encoding":{"x":{"datum":0.00266,"type":"quantitative","scale":{"domain":[-0.011814,0.006344],"nice":false,"zero":false},"axis":null},"y":{"datum":-1.773,"type":"quantitative","scale":{"domain":[-15.7273,9.7273],"nice":false,"zero":false},"axis":null}}},
{"data":{"values":[{}]},"mark":{"type":"point","shape":"M0,0L-2,-0.75L-2,0.75Z","filled":true,"size":49,"color":"#222222","opacity":1,"angle":157},"encoding":{"x":{"datum":0.004175,"type":"quantitative","scale":{"domain":[-0.011814,0.006344],"nice":false,"zero":false},"axis":null},"y":{"datum":-1.636,"type":"quantitative","scale":{"domain":[-15.7273,9.7273],"nice":false,"zero":false},"axis":null}}},
{"data":{"values":[{}]},"mark":{"type":"text","text":"0.8 ms silence","fontSize":18,"color":"#111111"},"encoding":{"x":{"datum":0.00105,"type":"quantitative","scale":{"domain":[-0.011814,0.006344],"nice":false,"zero":false},"axis":null},"y":{"datum":1.636,"type":"quantitative","scale":{"domain":[-15.7273,9.7273],"nice":false,"zero":false},"axis":null}}},
{"data":{"values":[{}]},"mark":{"type":"text","text":"Confusion of","fontSize":18,"align":"right","color":"#111111"},"encoding":{"x":{"datum":0.005607,"type":"quantitative","scale":{"domain":[-0.011814,0.006344],"nice":false,"zero":false},"axis":null},"y":{"datum":1.682,"type":"quantitative","scale":{"domain":[-15.7273,9.7273],"nice":false,"zero":false},"axis":null}}},
{"data":{"values":[{}]},"mark":{"type":"text","text":"leading ear","fontSize":18,"align":"right","color":"#111111"},"encoding":{"x":{"datum":0.005607,"type":"quantitative","scale":{"domain":[-0.011814,0.006344],"nice":false,"zero":false},"axis":null},"y":{"datum":0.773,"type":"quantitative","scale":{"domain":[-15.7273,9.7273],"nice":false,"zero":false},"axis":null}}},
{"data":{"values":[{}]},"mark":{"type":"text","text":"0.2 ms","fontSize":18,"align":"left","color":"#111111"},"encoding":{"x":{"datum":0.004666,"type":"quantitative","scale":{"domain":[-0.011814,0.006344],"nice":false,"zero":false},"axis":null},"y":{"datum":-0.364,"type":"quantitative","scale":{"domain":[-15.7273,9.7273],"nice":false,"zero":false},"axis":null}}}
]},
{"layer":[
{"data":{"values":[{}]},"mark":{"type":"rule","color":"#000000","strokeWidth":2},"encoding":{"x":{"datum":0,"type":"quantitative","scale":{"domain":[-0.011814,0.006344],"nice":false,"zero":false},"axis":null},"x2":{"datum":0.0045},"y":{"datum":0,"type":"quantitative","scale":{"domain":[-11.2727,14.1818],"nice":false,"zero":false},"axis":null}}},
{"data":{"values":[{}]},"mark":{"type":"rule","color":"#555555","strokeWidth":1},"encoding":{"x":{"datum":0.00225,"type":"quantitative","scale":{"domain":[-0.011814,0.006344],"nice":false,"zero":false},"axis":null},"y":{"datum":1,"type":"quantitative","scale":{"domain":[-11.2727,14.1818],"nice":false,"zero":false},"axis":null},"y2":{"datum":2.864}}},
{"data":{"values":[{}]},"mark":{"type":"rule","color":"#555555","strokeWidth":1},"encoding":{"x":{"datum":0.00425,"type":"quantitative","scale":{"domain":[-0.011814,0.006344],"nice":false,"zero":false},"axis":null},"y":{"datum":1,"type":"quantitative","scale":{"domain":[-11.2727,14.1818],"nice":false,"zero":false},"axis":null},"y2":{"datum":2.864}}},
{"data":{"name":"wave"},"transform":[{"filter":"datum.ch === 'Right'"}],"mark":{"type":"line","color":"#1c1ce3","strokeWidth":1.6,"interpolate":"monotone"},"encoding":{"x":{"field":"t","type":"quantitative","scale":{"domain":[-0.011814,0.006344],"nice":false,"zero":false},"axis":null},"y":{"field":"amp","type":"quantitative","scale":{"domain":[-11.2727,14.1818],"nice":false,"zero":false},"axis":null}}},
{"data":{"values":[{}]},"mark":{"type":"text","text":"0.8 ms","fontSize":18,"color":"#111111"},"encoding":{"x":{"datum":0.003083,"type":"quantitative","scale":{"domain":[-0.011814,0.006344],"nice":false,"zero":false},"axis":null},"y":{"datum":1.4545,"type":"quantitative","scale":{"domain":[-11.2727,14.1818],"nice":false,"zero":false},"axis":null}}}
]},
{"data":{"values":[{}]},"layer":[
{"mark":{"type":"rect","filled":false,"stroke":"#111111","strokeWidth":1.5},"encoding":{"x":{"datum":136.7,"type":"quantitative","scale":{"domain":[0,1331],"nice":false,"zero":false},"axis":null},"x2":{"datum":175},"y":{"datum":96,"type":"quantitative","scale":{"domain":[0,560],"reverse":true,"nice":false,"zero":false},"axis":null},"y2":{"datum":388}}},
{"mark":{"type":"rule","color":"#000000","strokeWidth":11},"encoding":{"x":{"datum":153,"type":"quantitative","scale":{"domain":[0,1331],"nice":false,"zero":false},"axis":null},"y":{"datum":386,"type":"quantitative","scale":{"domain":[0,560],"reverse":true,"nice":false,"zero":false},"axis":null},"y2":{"datum":428}}},
{"mark":{"type":"rule","color":"#000000","strokeWidth":8},"encoding":{"x":{"datum":148,"type":"quantitative","scale":{"domain":[0,1331],"nice":false,"zero":false},"axis":null},"x2":{"datum":967},"y":{"datum":424,"type":"quantitative","scale":{"domain":[0,560],"reverse":true,"nice":false,"zero":false},"axis":null}}},
{"mark":{"type":"rule","color":"#000000","strokeWidth":8},"encoding":{"x":{"datum":963,"type":"quantitative","scale":{"domain":[0,1331],"nice":false,"zero":false},"axis":null},"y":{"datum":428,"type":"quantitative","scale":{"domain":[0,560],"reverse":true,"nice":false,"zero":false},"axis":null},"y2":{"datum":390}}},
{"mark":{"type":"point","shape":"M0,-1.25L1,1.25L-1,1.25Z","filled":true,"size":676,"color":"#000000","opacity":1},"encoding":{"x":{"datum":963,"type":"quantitative","scale":{"domain":[0,1331],"nice":false,"zero":false},"axis":null},"y":{"datum":378,"type":"quantitative","scale":{"domain":[0,560],"reverse":true,"nice":false,"zero":false},"axis":null}}}
]}
]
}
